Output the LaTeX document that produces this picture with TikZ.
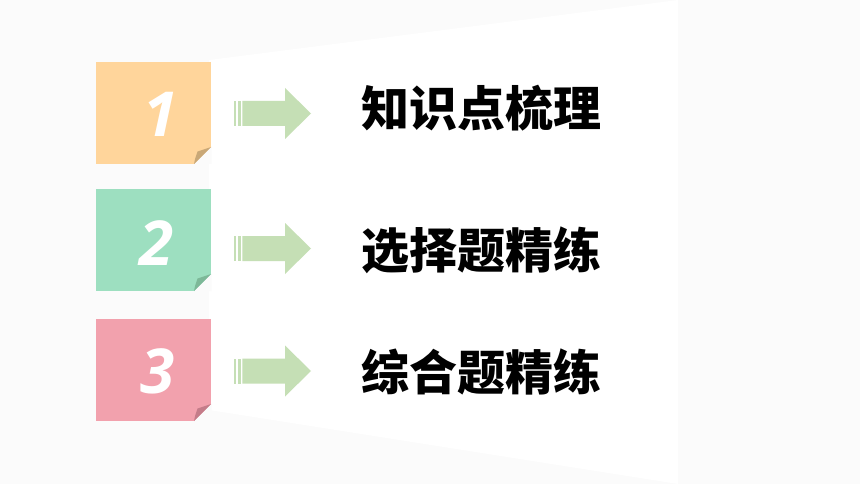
\documentclass[tikz,border=0pt]{standalone}
\usepackage{fontspec}
\newfontfamily\cjk{Noto Sans CJK SC}
\newfontfamily\numfont{Open Sans}

\definecolor{bggray}{HTML}{FBFBFB}
\definecolor{card1}{HTML}{FFD59B}
\definecolor{card2}{HTML}{9DDFC0}
\definecolor{card3}{HTML}{F2A1AD}
\definecolor{fold1}{HTML}{C9A877}
\definecolor{fold2}{HTML}{7DB898}
\definecolor{fold3}{HTML}{C47C89}
\definecolor{arrowgreen}{HTML}{C5DFB5}

\tikzset{
	card/.style={rectangle, minimum width=115pt, minimum height=102pt, inner sep=0pt},
	numtext/.style={anchor=base, text=white, font=\numfont\bfseries\itshape\fontsize{62}{62}\selectfont},
	topic/.style={anchor=base, font=\cjk\bfseries\fontsize{48}{48}\selectfont}
}

\begin{document}
\begin{tikzpicture}[x=1pt,y=-1pt]

	\useasboundingbox (0,0) rectangle (860,484);
	\fill [bggray] (0,0) rectangle (860,484);
	\fill [white] (209,60) -- (678,0) -- (678,484) -- (209,410) -- cycle;

	\foreach \n/\top/\ay/\col/\fold/\txt/\ty/\nx/\ny in {
		1/62/113.5/card1/fold1/知识点梳理/127/161/137,
		2/189/248.5/card2/fold2/选择题精练/268/157/265,
		3/319/371/card3/fold3/综合题精练/390/158/393}
	{
		% note card with curled corner
		\node [card, fill=\col] (card\n) at (153.5,\top+51) {};
		\fill [bggray] (194,\top+102) -- (211.5,\top+102) -- (211.5,\top+84.5) -- cycle;
		\fill [\fold] (194,\top+102) .. controls (195,\top+97) .. (197.5,\top+89.5)
			-- (211,\top+85) -- cycle;
		\node [numtext] (num\n) at (\nx,\ny) {\n};

		% striped block arrow
		\fill [arrowgreen] (234,\ay-12.5) rectangle (236,\ay+12.5);
		\fill [arrowgreen] (237.7,\ay-12.5) rectangle (240.7,\ay+12.5);
		\fill [arrowgreen] (242.3,\ay-12.5) -- (285,\ay-12.5) -- (285,\ay-25.5)
			-- (311,\ay) -- (285,\ay+25.5) -- (285,\ay+12.5) -- (242.3,\ay+12.5) -- cycle;

		\node [topic] (topic\n) at (481.5,\ty) {\txt};
	}

\end{tikzpicture}
\end{document}
